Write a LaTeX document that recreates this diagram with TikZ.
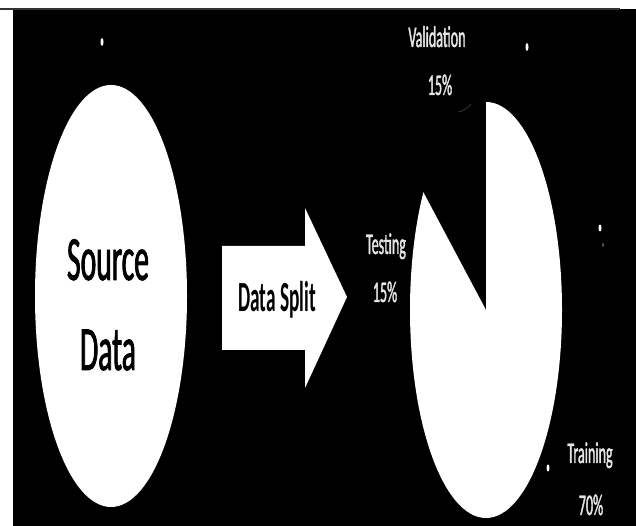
\documentclass[tikz,border=0pt]{standalone}
\usepackage{fontspec}
\setmainfont{Carlito}
\newfontfamily\narrowfont[FakeStretch=0.47, FakeBold=1.2]{Carlito}
\newfontfamily\narrowboldfont[FakeStretch=0.45]{Carlito}
\usetikzlibrary{shapes.geometric}

\tikzset{
  bigtext/.style={inner sep=0pt, anchor=base, text=black, font=\narrowfont\fontsize{63}{63}\selectfont},
  splittext/.style={inner sep=0pt, anchor=base, text=black, font=\narrowboldfont\bfseries\fontsize{43}{43}\selectfont},
  pielabel/.style={inner sep=0pt, anchor=base, text=black!10, font=\narrowfont\fontsize{30}{30}\selectfont},
  blip/.style={fill=white, draw=none},
}

\begin{document}
\begin{tikzpicture}[x=1pt, y=1pt]
  % canvas
  \useasboundingbox (0,0) rectangle (636,526);
  \fill[white] (0,0) rectangle (636,526);
  \fill[black] (13,0) rectangle (636,517);
  \draw[black!80, line width=1.7pt] (0,517.2) -- (620,517.2);

  % source data ellipse
  \node[ellipse, fill=white, draw=none, minimum width=152pt, minimum height=422pt, inner sep=0pt] (src) at (111,230) {};
  \node[bigtext] (srcA) at (108,246) {Source};
  \node[bigtext] (srcB) at (108,156) {Data};

  % split arrow
  \fill[white] (222,176) -- (222,280) -- (305,280) -- (305,318) -- (347,229)
               -- (305,138) -- (305,176) -- cycle;
  \node[splittext] (split) at (277,214) {Data Split};

  % pie: training share in white, the cut-out wedge stays black
  \coordinate (pc) at (486,216);
  \fill[white] (pc) -- (486,424)
    arc[start angle=90, end angle=-214.5, x radius=76, y radius=208] -- cycle;

  % pie labels
  \node[pielabel] (valname) at (437,479) {Validation};
  \node[pielabel] (valpct)  at (440,431) {15\%};
  \node[pielabel] (testname) at (386,272) {Testing};
  \node[pielabel] (testpct)  at (385,224) {15\%};
  \node[pielabel] (trainname) at (590,63) {Training};
  \node[pielabel] (trainpct)  at (591,11) {70\%};

  % faint leader near the validation label
  \draw[black!72, line width=0.6pt] (459,414) .. controls (464,416) and (468,418) .. (471,422);

  % small stray marks
  \fill[blip] (102,484) ellipse (1.5 and 4);
  \fill[blip] (527,479) ellipse (1.5 and 4);
  \fill[blip] (600,298) ellipse (1.5 and 3.5);
  \fill[black!60] (603,281) ellipse (0.8 and 2);
  \fill[blip] (548,58) ellipse (1.5 and 3.5);
\end{tikzpicture}
\end{document}
